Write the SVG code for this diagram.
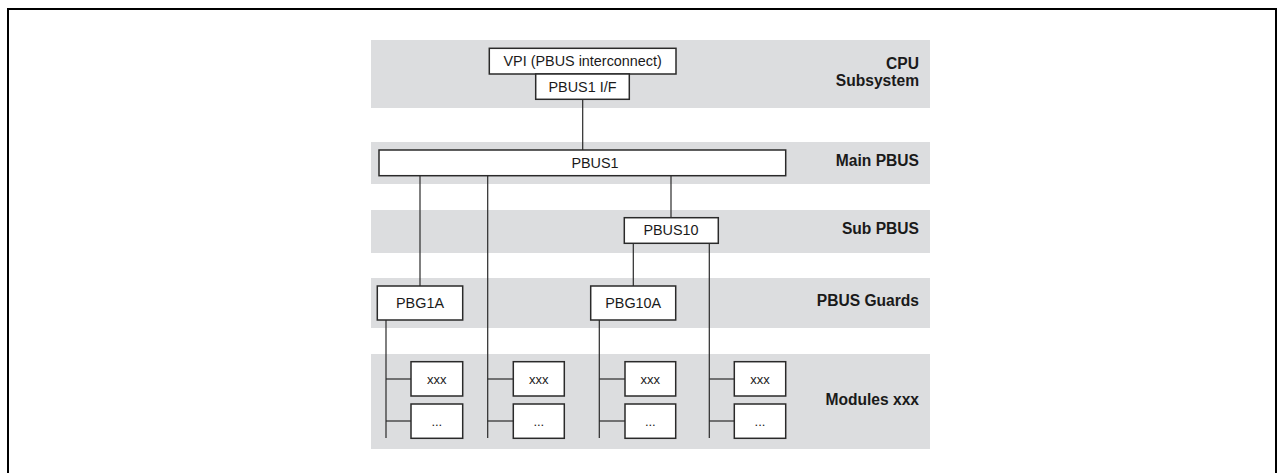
<svg xmlns="http://www.w3.org/2000/svg" width="1284" height="473" viewBox="0 0 1284 473">
<style>
.band{fill:#dcdddf}
.box{fill:#fff;stroke:#2a2a2a;stroke-width:1.5}
.t{font-family:"Liberation Sans",Arial,sans-serif;font-size:14.4px;fill:#1a1a1a;text-anchor:middle}
.s{font-family:"Liberation Sans",Arial,sans-serif;font-size:13px;fill:#1a1a1a;text-anchor:middle}
.lb{font-family:"Liberation Sans",Arial,sans-serif;font-size:15.6px;font-weight:bold;fill:#1a1a1a;text-anchor:end}
.ln{stroke:#2a2a2a;stroke-width:1.2;fill:none}
</style>
<rect width="1284" height="473" fill="#fff"/>
<polyline points="8,473 8,9 1276,9 1276,473" fill="none" stroke="#000" stroke-width="2"/>
<g id="bands">
<rect class="band" x="371" y="40" width="559" height="68"/>
<rect class="band" x="371" y="142" width="559" height="42"/>
<rect class="band" x="371" y="210" width="559" height="43"/>
<rect class="band" x="371" y="278" width="559" height="50"/>
<rect class="band" x="371" y="354" width="559" height="95"/>
</g>
<g id="layer-labels">
<text class="lb" x="919" y="69">CPU</text>
<text class="lb" x="919" y="86">Subsystem</text>
<text class="lb" x="919" y="166">Main PBUS</text>
<text class="lb" x="919" y="234">Sub PBUS</text>
<text class="lb" x="919" y="306">PBUS Guards</text>
<text class="lb" x="919" y="405">Modules xxx</text>
</g>
<g id="connectors">
<line class="ln" x1="582.7" y1="99" x2="582.7" y2="150"/>
<line class="ln" x1="420" y1="176" x2="420" y2="286"/>
<line class="ln" x1="487.7" y1="176" x2="487.7" y2="438"/>
<line class="ln" x1="671" y1="176" x2="671" y2="218"/>
<line class="ln" x1="633.3" y1="243" x2="633.3" y2="286"/>
<line class="ln" x1="709.3" y1="243" x2="709.3" y2="438"/>
<line class="ln" x1="386" y1="320" x2="386" y2="438"/>
<line class="ln" x1="599.3" y1="320" x2="599.3" y2="438"/>
<line class="ln" x1="386" y1="379" x2="411" y2="379"/>
<line class="ln" x1="386" y1="421" x2="411" y2="421"/>
<line class="ln" x1="487.7" y1="379" x2="513.3" y2="379"/>
<line class="ln" x1="487.7" y1="421" x2="513.3" y2="421"/>
<line class="ln" x1="599.3" y1="379" x2="625" y2="379"/>
<line class="ln" x1="599.3" y1="421" x2="625" y2="421"/>
<line class="ln" x1="709.3" y1="379" x2="734.3" y2="379"/>
<line class="ln" x1="709.3" y1="421" x2="734.3" y2="421"/>
</g>
<g id="vpi"><rect class="box" x="489.3" y="48.3" width="186.7" height="25.7"/><text class="t" x="582.7" y="66">VPI (PBUS interconnect)</text></g>
<g id="pbus1-if"><rect class="box" x="535.7" y="74" width="93.6" height="25.3"/><text class="t" x="582.5" y="91.5">PBUS1 I/F</text></g>
<g id="pbus1"><rect class="box" x="379" y="150" width="406.7" height="25.7"/><text class="t" x="595" y="168">PBUS1</text></g>
<g id="pbus10"><rect class="box" x="624.3" y="217.7" width="94" height="25.6"/><text class="t" x="671" y="235">PBUS10</text></g>
<g id="pbg1a"><rect class="box" x="377.3" y="286" width="85.4" height="34"/><text class="t" x="420" y="308">PBG1A</text></g>
<g id="pbg10a"><rect class="box" x="590.7" y="286" width="85" height="34"/><text class="t" x="633.2" y="308">PBG10A</text></g>
<g id="mod1"><rect class="box" x="411" y="361.7" width="51.7" height="34.3"/><text class="s" x="436.8" y="383.5">xxx</text></g>
<g id="mod1b"><rect class="box" x="411" y="404" width="51.7" height="34.3"/><text class="s" x="436.8" y="426">...</text></g>
<g id="mod2"><rect class="box" x="513.3" y="361.7" width="51" height="34.3"/><text class="s" x="538.8" y="383.5">xxx</text></g>
<g id="mod2b"><rect class="box" x="513.3" y="404" width="51" height="34.3"/><text class="s" x="538.8" y="426">...</text></g>
<g id="mod3"><rect class="box" x="625" y="361.7" width="50.7" height="34.3"/><text class="s" x="650.3" y="383.5">xxx</text></g>
<g id="mod3b"><rect class="box" x="625" y="404" width="50.7" height="34.3"/><text class="s" x="650.3" y="426">...</text></g>
<g id="mod4"><rect class="box" x="734.3" y="361.7" width="51.4" height="34.3"/><text class="s" x="760" y="383.5">xxx</text></g>
<g id="mod4b"><rect class="box" x="734.3" y="404" width="51.4" height="34.3"/><text class="s" x="760" y="426">...</text></g>
</svg>
